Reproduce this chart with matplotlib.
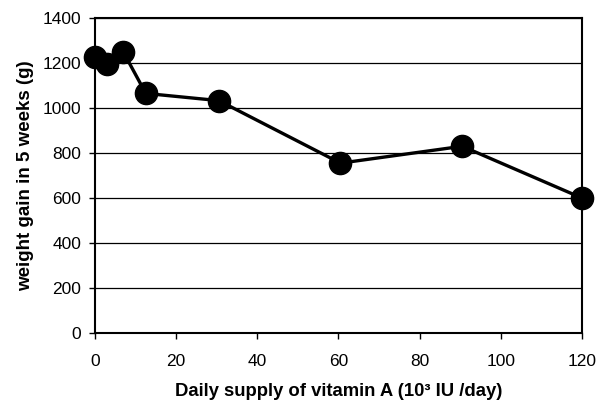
import matplotlib
matplotlib.use("Agg")
import matplotlib.pyplot as plt

# vitamin A supply (10^3 IU/day) vs weight gain over 5 weeks (g)
vitamin_a = [0, 3, 7, 12.5, 30.5, 60.5, 90.5, 120]
weight_gain = [1225, 1195, 1248, 1065, 1033, 755, 830, 600]
y_ticks = [0, 200, 400, 600, 800, 1000, 1200, 1400]
x_ticks = [0, 20, 40, 60, 80, 100, 120]

plt.rcParams['font.family'] = ['Liberation Sans', 'DejaVu Sans']

fig = plt.figure(figsize=(5.98, 4.11), dpi=100)
ax = fig.add_axes([0.159, 0.190, 0.814, 0.766])

for y in y_ticks[1:]:
    ax.axhline(y, color='black', lw=0.9, zorder=1)

ax.plot(vitamin_a, weight_gain, color='black', lw=2.4, marker='o',
        markersize=16, markerfacecolor='black', clip_on=False, zorder=3)

ax.set_xlim(0, 120)
ax.set_ylim(0, 1400)
ax.set_xticks(x_ticks)
ax.set_yticks(y_ticks)
ax.tick_params(direction='out', length=4, width=1, labelsize=12.5, pad=6)
ax.tick_params(axis='x', pad=11)
for s in ax.spines.values():
    s.set_linewidth(1.5)
    s.set_color('black')

ax.set_xlabel("Daily supply of vitamin A (10³ IU /day)", fontsize=13.3,
              fontweight='bold', labelpad=10)
ax.set_ylabel("weight gain in 5 weeks (g)", fontsize=13.5,
              fontweight='bold', labelpad=6)

fig.savefig("out.png", dpi=100)
